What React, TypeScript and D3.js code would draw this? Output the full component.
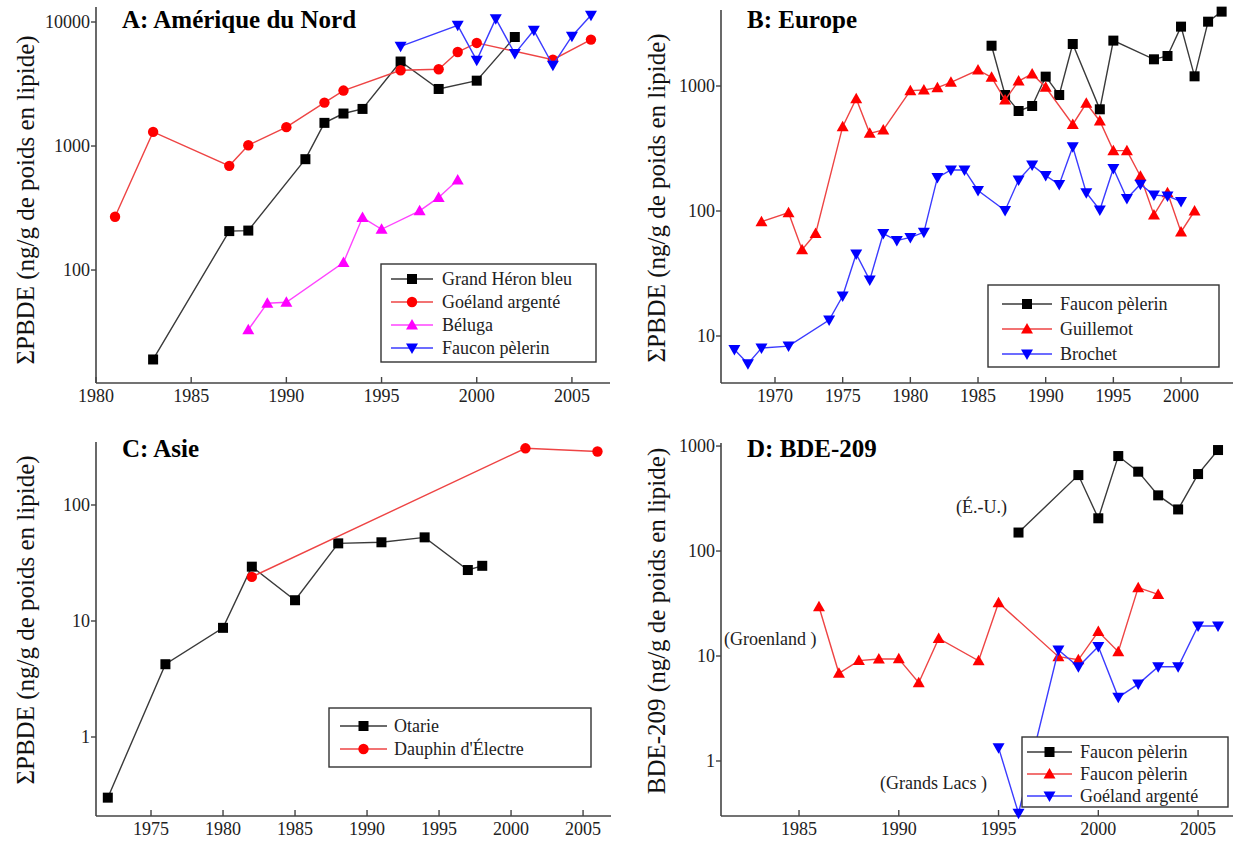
import React, { useEffect } from 'react';
import * as d3 from 'd3';

// ---------- Panel A: Amérique du Nord ----------
const yearsA_heron = [1983, 1987, 1988, 1991, 1992, 1993, 1994, 1996, 1998, 2000, 2002];
const valsA_heron = [19, 206, 208, 783, 1537, 1828, 1991, 4800, 2884, 3365, 7570];
const yearsA_goeland = [1981, 1983, 1987, 1988, 1990, 1992, 1993, 1996, 1998, 1999, 2000, 2004, 2006];
const valsA_goeland = [269, 1300, 692, 1015, 1419, 2239, 2800, 4080, 4160, 5730, 6780, 4970, 7210];
const yearsA_beluga = [1988, 1989, 1990, 1993, 1994, 1995, 1997, 1998, 1999];
const valsA_beluga = [33, 54, 55, 115, 265, 213, 300, 385, 531];
const yearsA_faucon = [1996, 1999, 2000, 2001, 2002, 2003, 2004, 2005, 2006];
const valsA_faucon = [6370, 9400, 4910, 10640, 5560, 8570, 4480, 7680, 11320];
const xTicksA = [1980, 1985, 1990, 1995, 2000, 2005];
const yTicksA = [100, 1000, 10000];

// ---------- Panel B: Europe ----------
const yearsB_faucon = [1986, 1987, 1988, 1989, 1990, 1991, 1992, 1994, 1995, 1998, 1999, 2000, 2001, 2002, 2003];
const valsB_faucon = [2100, 847, 631, 692, 1188, 847, 2168, 651, 2307, 1635, 1738, 2985, 1195, 3270, 3935];
const yearsB_guillemot = [1969, 1971, 1972, 1973, 1975, 1976, 1977, 1978, 1980, 1981, 1982, 1983, 1985, 1986, 1987, 1988, 1989, 1990, 1992, 1993, 1994, 1995, 1996, 1997, 1998, 1999, 2000, 2001];
const valsB_guillemot = [82, 97, 49, 66, 473, 792, 418, 445, 918, 929, 970, 1070, 1343, 1173, 773, 1096, 1248, 976, 493, 727, 525, 304, 304, 190, 93, 140, 68, 100];
const yearsB_brochet = [1967, 1968, 1969, 1971, 1974, 1975, 1976, 1977, 1978, 1979, 1980, 1981, 1982, 1983, 1984, 1985, 1987, 1988, 1989, 1990, 1991, 1992, 1993, 1994, 1995, 1996, 1997, 1998, 1999, 2000];
const valsB_brochet = [7.8, 6.0, 8.0, 8.3, 13.4, 20.9, 45.3, 28, 66, 58, 61.5, 67.5, 185, 213, 213, 146, 101, 177, 233, 192, 163, 327, 140, 102, 219, 126, 164, 134, 132, 119];
const xTicksB = [1970, 1975, 1980, 1985, 1990, 1995, 2000];
const yTicksB = [10, 100, 1000];

// ---------- Panel C: Asie ----------
const yearsC_otarie = [1972, 1976, 1980, 1982, 1985, 1988, 1991, 1994, 1997, 1998];
const valsC_otarie = [0.30, 4.24, 8.73, 29.4, 15.1, 46.7, 47.7, 52.6, 27.5, 29.9];
const yearsC_dauphin = [1982, 2001, 2006];
const valsC_dauphin = [24, 308, 289];
const xTicksC = [1975, 1980, 1985, 1990, 1995, 2000, 2005];
const yTicksC = [1, 10, 100];

// ---------- Panel D: BDE-209 ----------
const yearsD_usa = [1996, 1999, 2000, 2001, 2002, 2003, 2004, 2005, 2006];
const valsD_usa = [150, 529, 205, 803, 570, 339, 249, 541, 916];
const yearsD_groen = [1986, 1987, 1988, 1989, 1990, 1991, 1992, 1994, 1995, 1998, 1999, 2000, 2001, 2002, 2003];
const valsD_groen = [29.5, 6.84, 9.04, 9.35, 9.4, 5.57, 14.7, 9.0, 32.2, 9.86, 9.2, 17.1, 11.0, 44.8, 38.6];
const yearsD_lacs = [1995, 1996, 1998, 1999, 2000, 2001, 2002, 2003, 2004, 2005, 2006];
const valsD_lacs = [1.34, 0.318, 11.4, 7.9, 12.3, 4.04, 5.4, 7.9, 7.9, 19.3, 19.3];
const xTicksD = [1985, 1990, 1995, 2000, 2005];
const yTicksD = [1, 10, 100, 1000];

type Marker = 'square' | 'circle' | 'up' | 'down';
interface Series { name: string; years: number[]; values: number[]; color: string; line: string; marker: Marker; }
interface Panel {
  title: string; yLabel: string;
  left: number; right: number; top: number; bottom: number;
  xDom: [number, number]; yDom: [number, number];
  xTicks: number[]; yTicks: number[];
  series: Series[];
  titleX: number; titleY: number;
  yLabelX: number; yLabelY: number;
  legend: { x: number; y: number; w: number; h: number; rows: number[]; lineX1: number; lineX2: number; textX: number };
  notes?: { text: string; x: number; y: number }[];
}

const BLACK = '#000000', BLACKL = '#3a3a3a';
const RED = '#ff0000', REDL = '#ee4444';
const BLUE = '#0000ff', BLUEL = '#3b3bff';
const MAG = '#ff00ff', MAGL = '#ff44ff';

const panels: Panel[] = [
  {
    title: 'A: Amérique du Nord', yLabel: 'ΣPBDE (ng/g de poids en lipide)',
    left: 96, right: 610, top: 7, bottom: 383,
    xDom: [1980, 2007.0], yDom: [Math.pow(10, 1.089), Math.pow(10, 4.121)],
    xTicks: xTicksA, yTicks: yTicksA,
    series: [
      { name: 'Grand Héron bleu', years: yearsA_heron, values: valsA_heron, color: BLACK, line: BLACKL, marker: 'square' },
      { name: 'Goéland argenté', years: yearsA_goeland, values: valsA_goeland, color: RED, line: REDL, marker: 'circle' },
      { name: 'Béluga', years: yearsA_beluga, values: valsA_beluga, color: MAG, line: MAGL, marker: 'up' },
      { name: 'Faucon pèlerin', years: yearsA_faucon, values: valsA_faucon, color: BLUE, line: BLUEL, marker: 'down' },
    ],
    titleX: 122, titleY: 28, yLabelX: 25, yLabelY: 200,
    legend: { x: 381, y: 264, w: 215, h: 98, rows: [279, 302, 325, 348], lineX1: 391, lineX2: 433, textX: 442 },
  },
  {
    title: 'B: Europe', yLabel: 'ΣPBDE (ng/g de poids en lipide)',
    left: 721, right: 1233, top: 10, bottom: 383,
    xDom: [1966.01, 2003.84], yDom: [Math.pow(10, 0.624), Math.pow(10, 3.608)],
    xTicks: xTicksB, yTicks: yTicksB,
    series: [
      { name: 'Faucon pèlerin', years: yearsB_faucon, values: valsB_faucon, color: BLACK, line: BLACKL, marker: 'square' },
      { name: 'Guillemot', years: yearsB_guillemot, values: valsB_guillemot, color: RED, line: REDL, marker: 'up' },
      { name: 'Brochet', years: yearsB_brochet, values: valsB_brochet, color: BLUE, line: BLUEL, marker: 'down' },
    ],
    titleX: 747, titleY: 28, yLabelX: 656, yLabelY: 198,
    legend: { x: 988, y: 285, w: 231, h: 82, rows: [304, 329, 354], lineX1: 1002, lineX2: 1052, textX: 1060 },
  },
  {
    title: 'C: Asie', yLabel: 'ΣPBDE (ng/g de poids en lipide)',
    left: 96, right: 611, top: 442, bottom: 816,
    xDom: [1971.18, 2006.94], yDom: [Math.pow(10, -0.681), Math.pow(10, 2.543)],
    xTicks: xTicksC, yTicks: yTicksC,
    series: [
      { name: 'Otarie', years: yearsC_otarie, values: valsC_otarie, color: BLACK, line: BLACKL, marker: 'square' },
      { name: "Dauphin d'Électre", years: yearsC_dauphin, values: valsC_dauphin, color: RED, line: REDL, marker: 'circle' },
    ],
    titleX: 122, titleY: 457, yLabelX: 25, yLabelY: 620,
    legend: { x: 329, y: 708, w: 262, h: 59, rows: [726, 749], lineX1: 340, lineX2: 387, textX: 394 },
  },
  {
    title: 'D: BDE-209', yLabel: 'BDE-209 (ng/g de poids en lipide)',
    left: 721, right: 1233, top: 443, bottom: 816,
    xDom: [1981.09, 2006.75], yDom: [Math.pow(10, -0.524), Math.pow(10, 3.029)],
    xTicks: xTicksD, yTicks: yTicksD,
    series: [
      { name: 'Faucon pèlerin', years: yearsD_usa, values: valsD_usa, color: BLACK, line: BLACKL, marker: 'square' },
      { name: 'Faucon pèlerin', years: yearsD_groen, values: valsD_groen, color: RED, line: REDL, marker: 'up' },
      { name: 'Goéland argenté', years: yearsD_lacs, values: valsD_lacs, color: BLUE, line: BLUEL, marker: 'down' },
    ],
    titleX: 747, titleY: 457, yLabelX: 656, yLabelY: 621,
    legend: { x: 1022, y: 737, w: 206, h: 70, rows: [752, 774, 796], lineX1: 1027, lineX2: 1072, textX: 1080 },
    notes: [
      { text: '(É.-U.)', x: 956, y: 513 },
      { text: '(Groenland )', x: 724, y: 645 },
      { text: '(Grands Lacs )', x: 880, y: 789 },
    ],
  },
];

const FONT = "'Liberation Serif', 'Times New Roman', 'DejaVu Serif', serif";

function MarkerShape({ type, x, y, color }: { type: Marker; x: number; y: number; color: string }) {
  if (type === 'square') return <rect x={x - 5} y={y - 5} width={10} height={10} fill={color} />;
  if (type === 'circle') return <circle cx={x} cy={y} r={5.2} fill={color} />;
  if (type === 'up') return <path d={`M${x},${y - 6} L${x + 6},${y + 4.5} L${x - 6},${y + 4.5} Z`} fill={color} />;
  return <path d={`M${x},${y + 6} L${x + 6},${y - 4.5} L${x - 6},${y - 4.5} Z`} fill={color} />;
}

function PanelView({ p }: { p: Panel }) {
  const x = d3.scaleLinear().domain(p.xDom).range([p.left, p.right]);
  const y = d3.scaleLog().domain(p.yDom).range([p.bottom, p.top]);
  const line = d3.line<[number, number]>().x(d => x(d[0])).y(d => y(d[1]));
  const lg = p.legend;
  return (
    <g>
      {/* axes */}
      <line x1={p.left} y1={p.top} x2={p.left} y2={p.bottom} stroke="#444" strokeWidth={1.6} />
      <line x1={p.left} y1={p.bottom} x2={p.right} y2={p.bottom} stroke="#444" strokeWidth={1.6} />
      {p.xTicks.map(t => (
        <g key={'x' + t}>
          <line x1={x(t)} x2={x(t)} y1={p.bottom} y2={p.bottom - 6} stroke="#444" strokeWidth={1.4} />
          <text x={x(t)} y={p.bottom + 19} textAnchor="middle" fontSize={18} fontFamily={FONT} fill="#222">{t}</text>
        </g>
      ))}
      {p.yTicks.map(t => (
        <g key={'y' + t}>
          <line x1={p.left} x2={p.left - 5} y1={y(t)} y2={y(t)} stroke="#444" strokeWidth={1.4} />
          <text x={p.left - 6} y={y(t) + 6} textAnchor="end" fontSize={18} fontFamily={FONT} fill="#222">{t}</text>
        </g>
      ))}
      <text transform={`translate(${p.yLabelX},${p.yLabelY}) rotate(-90)`} textAnchor="middle" dominantBaseline="central"
        fontSize={25} fontFamily={FONT} fill="#111">{p.yLabel}</text>
      {/* series */}
      {p.series.map((s, i) => {
        const pts: [number, number][] = s.years.map((yr, k) => [yr, s.values[k]]);
        return (
          <g key={i}>
            <path d={line(pts) || ''} fill="none" stroke={s.line} strokeWidth={1.4} />
            {pts.map((d, k) => <MarkerShape key={k} type={s.marker} x={x(d[0])} y={y(d[1])} color={s.color} />)}
          </g>
        );
      })}
      {/* title */}
      <text x={p.titleX} y={p.titleY} fontSize={25} fontWeight="bold" fontFamily={FONT} fill="#000">{p.title}</text>
      {/* notes */}
      {(p.notes || []).map((n, i) => (
        <text key={i} x={n.x} y={n.y} fontSize={18} fontFamily={FONT} fill="#222">{n.text}</text>
      ))}
      {/* legend */}
      <rect x={lg.x} y={lg.y} width={lg.w} height={lg.h} fill="#fff" stroke="#333" strokeWidth={1.4} />
      {p.series.map((s, i) => (
        <g key={'l' + i}>
          <line x1={lg.lineX1} x2={lg.lineX2} y1={lg.rows[i]} y2={lg.rows[i]} stroke={s.line} strokeWidth={1.6} />
          <MarkerShape type={s.marker} x={(lg.lineX1 + lg.lineX2) / 2} y={lg.rows[i]} color={s.color} />
          <text x={lg.textX} y={lg.rows[i] + 6} fontSize={18} fontFamily={FONT} fill="#222">{s.name}</text>
        </g>
      ))}
    </g>
  );
}

export default function App() {
  useEffect(() => {
    document.body.style.margin = '0';
  }, []);
  return (
    <svg width={1236} height={843} style={{ display: 'block', background: '#fff' }}>
      <rect x={0} y={0} width={1236} height={843} fill="#fff" />
      {panels.map((p, i) => <PanelView key={i} p={p} />)}
    </svg>
  );
}
